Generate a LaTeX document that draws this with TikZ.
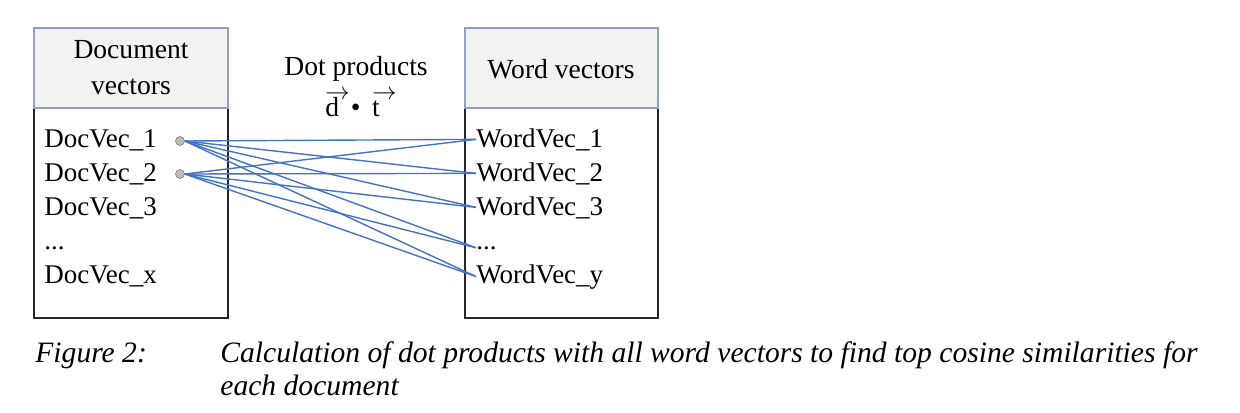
\documentclass[tikz,border=0pt]{standalone}
\usepackage{fontspec}
\setmainfont{Liberation Serif}
\usetikzlibrary{positioning}
\definecolor{hdrgray}{RGB}{242,242,242}
\definecolor{hdrline}{RGB}{143,160,196}
\definecolor{linkblue}{RGB}{68,114,196}
\definecolor{dotgray}{RGB}{190,190,190}
\newcommand{\arrowed}[1]{\rlap{\raisebox{0.58em}{\scalebox{0.85}{$\rightarrow$}}}\mbox{#1}}

\begin{document}
\begin{tikzpicture}[x=0.5pt,y=-0.5pt,
  item/.style={anchor=base west, inner sep=0pt, font=\fontsize{13.5}{16}\selectfont},
  head/.style={align=center, inner sep=0pt, font=\fontsize{13.8}{18}\selectfont},
  link/.style={linkblue, line width=0.7pt},
  pin/.style={circle, fill=dotgray, draw=gray, line width=0.3pt, inner sep=0pt, minimum size=4.5pt},
  capt/.style={anchor=base west, inner sep=0pt, font=\fontsize{14.8}{18}\selectfont\itshape}]
\useasboundingbox (0,0) rectangle (1240,412);

% Boîte de gauche : vecteurs des documents
\draw[black!85, line width=0.6pt] (34,108) rectangle (228,318);
\draw[fill=hdrgray, draw=hdrline, line width=0.6pt] (34,28) rectangle (228,108);
\node[head] (dochead) at (131,68) {Document\\vectors};

\node[item] (d1) at (44,147) {DocVec\_1};
\node[item] (d2) at (44,181) {DocVec\_2};
\node[item] (d3) at (44,215) {DocVec\_3};
\node[item] (d4) at (44,249) {...};
\node[item] (dx) at (44,283) {DocVec\_x};

% Boîte de droite : vecteurs des mots
\draw[black!85, line width=0.6pt] (465,108) rectangle (658,318);
\draw[fill=hdrgray, draw=hdrline, line width=0.6pt] (465,28) rectangle (658,108);
\node[head] (wordhead) at (561,69) {Word vectors};

\node[item] (w1) at (476,147) {WordVec\_1};
\node[item] (w2) at (476,181) {WordVec\_2};
\node[item] (w3) at (476,215) {WordVec\_3};
\node[item] (w4) at (476,249) {...};
\node[item] (wy) at (476,283) {WordVec\_y};

% Titre du milieu
\node[head, anchor=base] (dottitle) at (356,75) {Dot products};
\node[head, anchor=base west] (dotform) at (325,116) {\arrowed{d}\hspace{0.42em}\textbullet\hspace{0.42em}\arrowed{t}};

% Points de départ
\node[pin] (p1) at (180,141) {};
\node[pin] (p2) at (180,174) {};

% Produits scalaires
\foreach \w in {w1,w2,w3,w4,wy} {
  \draw[link] (p1.east) -- (\w.west);
  \draw[link] (p2.east) -- (\w.west);
}

% Légende
\node[capt] (fig) at (35,362) {Figure 2:};
\node[capt] (cap1) at (220,362) {Calculation of dot products with all word vectors to find top cosine similarities for};
\node[capt] (cap2) at (220,395) {each document};
\end{tikzpicture}
\end{document}
